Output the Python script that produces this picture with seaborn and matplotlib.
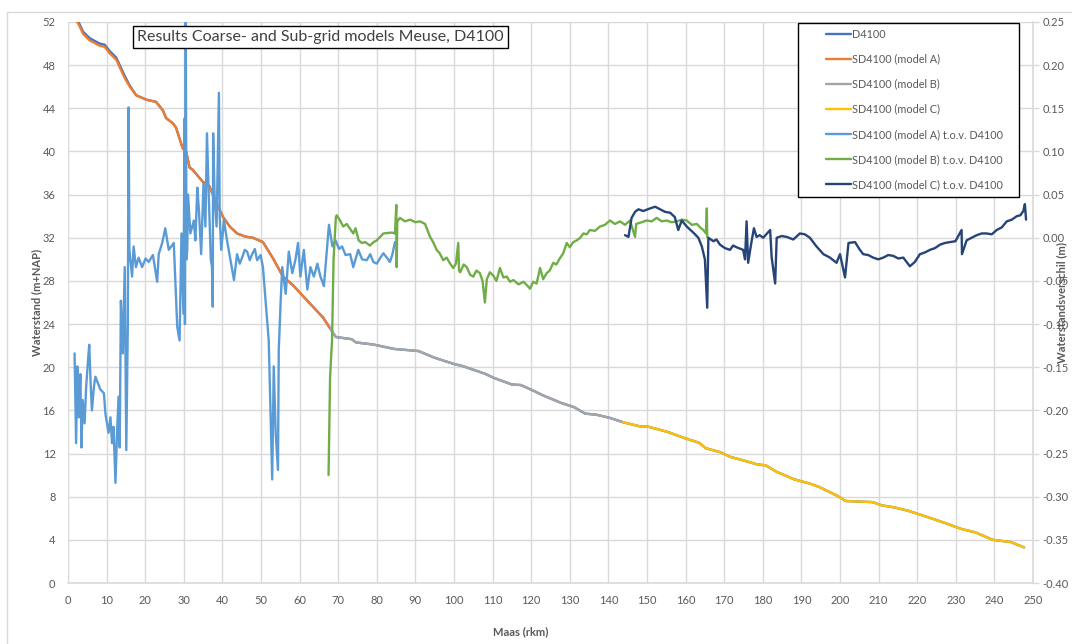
import matplotlib
matplotlib.use("Agg")
import matplotlib.pyplot as plt
from matplotlib.patches import Rectangle
from matplotlib.lines import Line2D
from matplotlib.ticker import FixedLocator, FuncFormatter
import seaborn as sns

# ---------------- water levels (m+NAP) ----------------
km_d4100 = [1.6, 2.6, 3.9, 5.6, 8.2, 9.5, 10.8, 12.5, 14.7, 16.0, 17.7, 20.3, 22.8, 24.6, 25.4,
            27.2, 28.0, 29.7, 30.6, 31.5, 32.3, 34.9, 36.6, 38.0, 40.2, 42.0, 43.8, 46.0, 47.9,
            50.5, 53.1, 55.7, 58.3, 61.9, 64.0, 66.1, 67.9, 69.4, 73.5, 74.6, 79.2, 84.4, 90.8,
            94.8, 100.0, 102.3, 108.0, 110.4, 115.0, 117.3, 120.7, 123.0, 127.7, 131.1, 134.0,
            136.9, 140.4, 143.8, 148.4, 150.2, 155.4, 160.0, 163.5, 165.2, 169.2, 171.5, 175.6,
            178.5, 180.8, 183.6, 188.2, 192.3, 194.6, 199.2, 201.5, 208.4, 210.8, 214.2, 217.6,
            221.1, 226.9, 231.5, 235.0, 239.6, 244.2, 247.7]
level_d4100 = [52.5, 52.1, 51.1, 50.5, 50.0, 49.9, 49.3, 48.7, 47.0, 46.1, 45.2, 44.8, 44.6, 43.8, 43.1,
               42.6, 42.2, 40.3, 40.0, 38.5, 38.3, 37.2, 36.8, 35.6, 33.9, 33.0, 32.4, 32.1, 32.0,
               31.6, 30.1, 28.4, 27.6, 26.2, 25.4, 24.6, 23.6, 22.8, 22.6, 22.3, 22.1, 21.7, 21.5,
               20.9, 20.3, 20.1, 19.4, 19.0, 18.4, 18.35, 17.8, 17.4, 16.7, 16.3, 15.7,
               15.6, 15.3, 14.9, 14.5, 14.5, 14.0, 13.4, 13.0, 12.5, 12.1, 11.7, 11.3,
               11.0, 10.9, 10.3, 9.6, 9.2, 8.9, 8.1, 7.6, 7.5, 7.2, 7.0, 6.7,
               6.3, 5.6, 5.0, 4.7, 4.0, 3.8, 3.3]

km_model_a = [1.6, 2.6, 3.9, 5.6, 8.2, 9.5, 10.8, 12.5, 14.7, 16.0, 17.7, 20.3, 22.8, 24.6, 25.4,
              27.2, 28.0, 29.7, 30.6, 31.5, 32.3, 34.9, 36.6, 38.0, 40.2, 42.0, 43.8, 46.0, 47.9,
              50.5, 53.1, 55.7, 58.3, 61.9, 64.0, 66.1, 67.9]
level_model_a = [52.3, 51.9, 50.9, 50.3, 49.8, 49.7, 49.1, 48.5, 46.8, 46.0, 45.2, 44.8, 44.6, 43.8, 43.1,
                 42.6, 42.2, 40.3, 40.0, 38.5, 38.3, 37.2, 36.8, 35.6, 33.9, 33.0, 32.4, 32.1, 32.0,
                 31.6, 30.1, 28.4, 27.6, 26.2, 25.4, 24.6, 23.6]

km_model_b = [67.9, 69.4, 73.5, 74.6, 79.2, 84.4, 90.8, 94.8, 100.0, 102.3, 108.0, 110.4, 115.0,
              117.3, 120.7, 123.0, 127.7, 131.1, 134.0, 136.9, 140.4, 143.8]
level_model_b = [23.6, 22.8, 22.6, 22.3, 22.1, 21.7, 21.5, 20.9, 20.3, 20.1, 19.4, 19.0, 18.4,
                 18.35, 17.8, 17.4, 16.7, 16.3, 15.7, 15.6, 15.3, 14.9]

km_model_c = [143.8, 148.4, 150.2, 155.4, 160.0, 163.5, 165.2, 169.2, 171.5, 175.6, 178.5, 180.8,
              183.6, 188.2, 192.3, 194.6, 199.2, 201.5, 208.4, 210.8, 214.2, 217.6, 221.1, 226.9,
              231.5, 235.0, 239.6, 244.2, 247.7]
level_model_c = [14.9, 14.5, 14.5, 14.0, 13.4, 13.0, 12.5, 12.1, 11.7, 11.3, 11.0, 10.9,
                 10.3, 9.6, 9.2, 8.9, 8.1, 7.6, 7.5, 7.2, 7.0, 6.7, 6.3, 5.6,
                 5.0, 4.7, 4.0, 3.8, 3.3]

# ---------------- differences with D4100 (m) ----------------
km_diff_a = [1.7, 2.1, 2.4, 2.8, 3.2, 3.5, 3.8, 4.3, 4.7, 5.2, 5.5, 5.9, 6.2, 6.7, 7.1, 7.8, 8.4,
             9.3, 9.7, 10.5, 11.0, 11.4, 11.8, 12.3, 12.7, 13.1, 13.4, 13.7, 14.2, 14.7, 15.1,
             15.5, 15.7, 15.9, 16.6, 17.0, 17.6, 18.3, 19.2, 20.1, 20.9, 22.0, 23.1, 23.5, 24.4,
             25.2, 26.1, 27.4, 28.3, 28.9, 29.4, 29.9, 30.2, 30.3, 30.5, 30.7, 30.9, 31.1, 31.7,
             32.6, 33.0, 33.5, 33.9, 34.5, 35.1, 35.6, 36.0, 36.5, 37.0, 37.3, 37.5, 37.6, 38.0,
             38.5, 39.1, 39.3, 39.7, 40.4, 41.2, 42.1, 43.0, 43.8, 44.5, 45.1, 45.8, 46.4, 47.1,
             47.7, 48.4, 49.0, 49.9, 50.5, 51.2, 52.0, 52.9, 53.3, 53.8, 54.4, 54.6, 55.1, 55.5,
             56.4, 57.2, 58.1, 58.9, 59.6, 60.2, 61.1, 62.0, 62.8, 63.7, 64.6, 65.4, 66.3, 67.2,
             67.6, 68.5, 69.3, 70.2, 71.0, 71.9, 73.1, 73.9, 75.2, 76.2, 77.4, 78.3, 79.1, 80.0,
             80.8, 81.7, 82.6, 83.4, 84.0, 84.7]
diff_a = [-0.134, -0.238, -0.149, -0.208, -0.158, -0.243, -0.188, -0.215, -0.173, -0.141, -0.124,
          -0.173, -0.200, -0.173, -0.161, -0.169, -0.176, -0.180, -0.204, -0.226, -0.208, -0.238,
          -0.219, -0.284, -0.226, -0.184, -0.243, -0.073, -0.134, -0.034, -0.246, -0.100, 0.151,
          -0.014, -0.045, -0.010, -0.034, -0.023, -0.034, -0.024, -0.028, -0.020, -0.051, -0.019,
          -0.006, 0.011, -0.014, -0.006, -0.103, -0.119, 0.005, -0.088, 0.138, -0.100, 0.262,
          -0.025, -0.014, 0.050, 0.005, 0.020, -0.003, 0.058, 0.033, -0.019, 0.063, 0.013, 0.121,
          0.044, -0.025, -0.034, -0.080, 0.121, 0.044, 0.013, 0.168, 0.025, -0.014, 0.020, -0.003,
          -0.026, -0.049, -0.019, -0.030, -0.023, -0.014, -0.016, -0.026, -0.019, -0.013, -0.026,
          -0.020, -0.034, -0.073, -0.119, -0.280, -0.149, -0.226, -0.269, -0.130, -0.073, -0.034,
          -0.065, -0.016, -0.041, -0.026, -0.006, -0.045, -0.014, -0.060, -0.034, -0.045, -0.030,
          -0.045, -0.056, -0.006, 0.015, -0.010, -0.003, -0.013, -0.010, -0.020, -0.019, -0.034,
          -0.014, -0.025, -0.026, -0.019, -0.028, -0.030, -0.024, -0.018, -0.023, -0.028, -0.020,
          -0.005]

km_diff_b = [67.5, 67.9, 68.4, 68.8, 69.4, 69.6, 70.5, 71.3, 72.2, 73.9, 74.5, 75.3, 76.1, 77.0,
             78.2, 79.2, 80.0, 81.7, 83.9, 84.7, 85.05, 85.15, 85.3, 86.0, 87.3, 88.6, 90.0, 91.2,
             92.5, 93.8, 94.6, 95.5, 96.3, 97.2, 98.1, 99.0, 99.8, 100.5, 101.1, 101.3, 101.6,
             102.5, 103.3, 104.2, 105.0, 105.8, 106.7, 107.4, 108.0, 108.5, 109.3, 110.2, 111.0,
             111.9, 112.8, 113.7, 114.5, 115.4, 116.7, 118.0, 118.9, 119.7, 120.5, 121.4, 122.3,
             123.1, 124.0, 124.8, 125.7, 126.5, 127.4, 128.3, 129.2, 130.0, 130.9, 131.8, 132.7,
             133.5, 134.4, 135.2, 136.5, 137.8, 139.1, 140.4, 141.7, 143.0, 144.3, 145.6, 146.9,
             147.2, 148.6, 149.9, 151.2, 152.5, 153.8, 155.1, 156.4, 157.7, 159.0, 160.3, 161.6,
             162.9, 164.0, 164.6, 165.3, 165.5, 165.6]
diff_b = [-0.275, -0.161, -0.119, -0.025, 0.024, 0.026, 0.020, 0.013, 0.016, 0.005, 0.011, -0.003,
          -0.006, -0.005, -0.009, -0.005, -0.003, 0.005, 0.006, 0.005, 0.038, -0.034, 0.019, 0.023,
          0.019, 0.021, 0.018, 0.019, 0.016, 0.001, -0.005, -0.014, -0.018, -0.026, -0.023, -0.030,
          -0.035, -0.030, -0.006, -0.038, -0.040, -0.031, -0.034, -0.043, -0.045, -0.038, -0.041,
          -0.050, -0.075, -0.048, -0.040, -0.044, -0.050, -0.035, -0.046, -0.045, -0.051, -0.049,
          -0.054, -0.051, -0.055, -0.059, -0.051, -0.053, -0.035, -0.048, -0.041, -0.038, -0.029,
          -0.031, -0.024, -0.018, -0.006, -0.011, -0.005, -0.003, 0.000, 0.005, 0.004, 0.009, 0.008,
          0.013, 0.015, 0.020, 0.016, 0.019, 0.015, 0.020, 0.001, 0.016, 0.018, 0.020, 0.019, 0.023,
          0.019, 0.020, 0.018, 0.019, 0.021, 0.020, 0.015, 0.016, 0.011, 0.009, 0.005, 0.034, 0.001]

km_diff_c = [144.3, 145.2, 146.0, 146.9, 147.8, 149.0, 150.8, 152.1, 153.4, 154.7, 156.0, 157.2,
             158.1, 159.0, 160.3, 162.0, 163.3, 164.2, 165.0, 165.6, 165.9, 167.2, 168.0, 168.9,
             170.2, 171.5, 172.3, 173.2, 174.9, 175.4, 175.8, 176.2, 177.1, 177.7, 178.4, 179.2,
             180.1, 181.9, 182.3, 183.2, 183.6, 184.9, 186.2, 187.9, 189.6, 190.9, 192.2, 193.9,
             195.7, 197.4, 199.1, 200.0, 201.3, 202.2, 203.9, 205.0, 206.0, 207.3, 208.6, 209.9,
             211.2, 212.5, 213.8, 215.1, 216.4, 218.1, 219.4, 220.7, 222.0, 223.3, 224.6, 225.9,
             227.2, 228.5, 229.9, 231.5, 231.6, 232.8, 234.1, 235.4, 236.7, 238.0, 239.3, 240.6,
             241.9, 243.2, 244.5, 245.8, 246.7, 247.5, 247.9, 248.2]
diff_c = [0.003, 0.001, 0.023, 0.030, 0.033, 0.031, 0.034, 0.036, 0.033, 0.030, 0.029, 0.024,
          0.009, 0.020, 0.013, 0.006, 0.000, -0.010, -0.025, -0.081, 0.000, -0.004, -0.002, -0.008,
          -0.012, -0.014, -0.009, -0.011, -0.014, -0.025, 0.019, -0.029, -0.004, 0.011, 0.001, 0.003,
          0.000, 0.009, -0.023, -0.053, 0.000, 0.002, 0.001, -0.002, 0.005, 0.004, 0.000, -0.010,
          -0.019, -0.023, -0.029, -0.019, -0.046, -0.006, -0.005, -0.013, -0.019, -0.020, -0.023, -0.025,
          -0.023, -0.020, -0.021, -0.024, -0.023, -0.033, -0.028, -0.019, -0.017, -0.014, -0.012, -0.008,
          -0.006, -0.005, -0.004, 0.009, -0.019, -0.003, 0.000, 0.003, 0.005, 0.005, 0.004, 0.009,
          0.012, 0.019, 0.021, 0.025, 0.026, 0.031, 0.039, 0.021]

x_ticks = list(range(0, 251, 10))
left_ticks = list(range(0, 53, 4))
right_ticks = [-0.40, -0.35, -0.30, -0.25, -0.20, -0.15, -0.10, -0.05, 0.00, 0.05, 0.10, 0.15, 0.20, 0.25]

labels = ["D4100", "SD4100 (model A)", "SD4100 (model B)", "SD4100 (model C)",
          "SD4100 (model A) t.o.v. D4100", "SD4100 (model B) t.o.v. D4100",
          "SD4100 (model C) t.o.v. D4100"]
colors = ["#4472C4", "#ED7D31", "#A5A5A5", "#FFC000", "#5B9BD5", "#70AD47", "#264478"]

# ---------------- figure ----------------
sns.set_theme(style="white")
plt.rcParams["font.family"] = ["Lato", "DejaVu Sans"]
plt.rcParams["axes.unicode_minus"] = False

W, H = 1072, 644
fig = plt.figure(figsize=(W / 100, H / 100), dpi=100)
fig.patch.set_facecolor("white")

L, R, T, B = 68, 1033, 22, 583
ax = fig.add_axes([L / W, 1 - B / H, (R - L) / W, (B - T) / H])
ax2 = ax.twinx()

lw = 1.7
level_series = [(km_d4100, level_d4100), (km_model_a, level_model_a),
                (km_model_b, level_model_b), (km_model_c, level_model_c)]
for (xs, ys), c in zip(level_series, colors[:4]):
    sns.lineplot(x=xs, y=ys, ax=ax, color=c, lw=lw, estimator=None, sort=False, legend=False)

diff_series = [(km_diff_a, diff_a), (km_diff_b, diff_b), (km_diff_c, diff_c)]
for (xs, ys), c in zip(diff_series, colors[4:]):
    sns.lineplot(x=xs, y=ys, ax=ax2, color=c, lw=lw, estimator=None, sort=False, legend=False)

grid_c = "#d9d9d9"
text_c = "#595959"

ax.set_xlim(0, 250)
ax.set_ylim(0, 52)
ax2.set_ylim(-0.40, 0.25)
ax.xaxis.set_major_locator(FixedLocator(x_ticks))
ax.yaxis.set_major_locator(FixedLocator(left_ticks))
ax2.yaxis.set_major_locator(FixedLocator(right_ticks))
ax2.yaxis.set_major_formatter(FuncFormatter(lambda v, p: f"{round(v, 2):.2f}".replace("-0.00", "0.00")))

ax.grid(True, color=grid_c, lw=1.0)
ax2.grid(False)
for s in ["top", "left", "right"]:
    ax.spines[s].set_visible(False)
ax.spines["bottom"].set_color(grid_c)
ax.spines["bottom"].set_linewidth(1.2)
for s in ["top", "left", "bottom"]:
    ax2.spines[s].set_visible(False)
ax2.spines["right"].set_color(grid_c)
ax2.spines["right"].set_linewidth(1.2)

ax.tick_params(axis="x", length=0, pad=9, labelsize=8, labelcolor=text_c)
ax.tick_params(axis="y", length=0, pad=9, labelsize=8, labelcolor=text_c)
ax2.tick_params(axis="y", length=4, width=1, color=grid_c, pad=3, labelsize=8, labelcolor=text_c)
ax.set_xlabel("")
ax.set_ylabel("")
ax2.set_ylabel("")

fig.text(521 / W, 1 - 632 / H, "Maas (rkm)", ha="center", va="center",
         fontsize=8, fontweight="bold", color=text_c)
fig.text(37 / W, 1 - 302 / H, "Waterstand (m+NAP)", ha="center", va="center", rotation=90,
         fontsize=8, fontweight="bold", color=text_c)
fig.text(1062 / W, 1 - 302 / H, "Waterstandsverschil (m)", ha="center", va="center", rotation=90,
         fontsize=8, fontweight="bold", color=text_c)

# chart area outline
fig.add_artist(Rectangle((7 / W, -0.05), 1.2, 1 - 12 / H + 0.05, transform=fig.transFigure,
                         fill=False, ec="#d9d9d9", lw=1.0, zorder=1))

# title box
fig.text(137 / W, 1 - 37 / H, "Results Coarse- and Sub-grid models Meuse, D4100",
         ha="left", va="center", fontsize=11.5, color="#404040", zorder=6,
         bbox=dict(boxstyle="square,pad=0.28", fc="white", ec="black", lw=1.0))

# legend
fig.add_artist(Rectangle((798 / W, 1 - 197 / H), (1019 - 798) / W, (197 - 23) / H,
                         transform=fig.transFigure, fc="white", ec="black", lw=1.0, zorder=5))
handles = [Line2D([0], [0], color=c, lw=lw) for c in colors]
fig.legend(handles, labels, loc="upper left", bbox_to_anchor=(826 / W, 1 - 28.5 / H),
           frameon=False, fontsize=7.8, handlelength=2.3, handletextpad=0.1, labelspacing=1.3,
           borderpad=0, borderaxespad=0, labelcolor=text_c).set_zorder(6)

fig.savefig("out.png", dpi=100, facecolor="white")
